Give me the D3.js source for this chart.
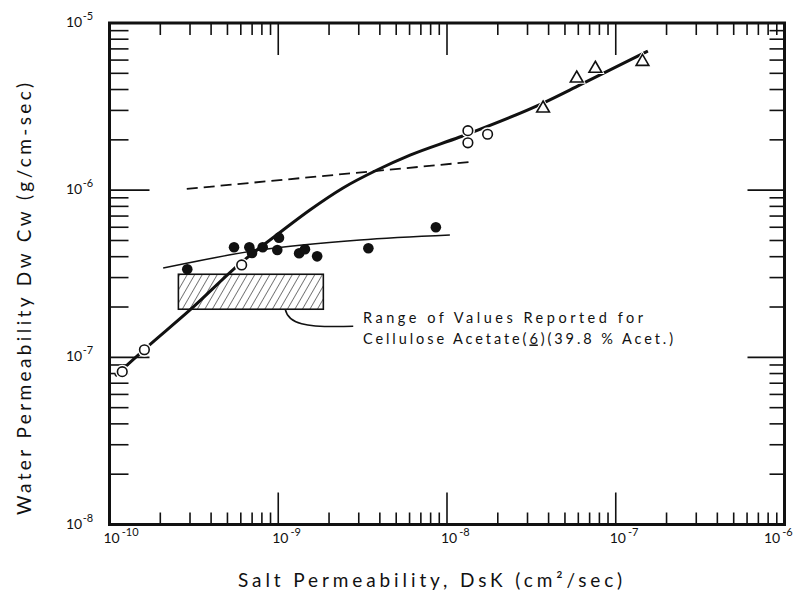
<!DOCTYPE html>
<html>
<head>
<meta charset="utf-8">
<script src="https://cdn.jsdelivr.net/npm/d3@7"></script>
<style>
  html, body { margin: 0; padding: 0; background: #fff; }
  svg { display: block; }
  text { font-family: Lato, "DejaVu Sans", sans-serif; fill: #111; }
</style>
</head>
<body>
<svg id="chart" width="799" height="595"></svg>
<script>
// Salt permeability (cm²/sec) vs water permeability (g/cm-sec)
const xTickExponents = [-10, -9, -8, -7, -6];
const yTickExponents = [-8, -7, -6, -5];

// open circles
const openX = [1.19e-10, 1.61e-10, 6.07e-10, 1.33e-8, 1.33e-8, 1.74e-8];
const openY = [8.21e-8, 1.11e-7, 3.57e-7, 2.27e-6, 1.92e-6, 2.16e-6];

// triangles
const triX = [3.71e-8, 5.87e-8, 7.57e-8, 1.44e-7];
const triY = [3.13e-6, 4.73e-6, 5.41e-6, 5.95e-6];

// filled circles
const filledX = [2.89e-10, 5.47e-10, 6.74e-10, 6.99e-10, 8.09e-10, 1.01e-9, 9.87e-10, 1.33e-9, 1.44e-9, 1.70e-9, 3.42e-9, 8.59e-9];
const filledY = [3.36e-7, 4.56e-7, 4.56e-7, 4.21e-7, 4.56e-7, 5.20e-7, 4.39e-7, 4.19e-7, 4.43e-7, 4.02e-7, 4.49e-7, 6.00e-7];

// heavy curve through open circles and triangles
const curveX = [1.08e-10, 1.62e-10, 3.0e-10, 6.10e-10, 1.05e-9, 1.54e-9, 2.42e-9, 3.85e-9, 6.04e-9, 1.19e-8, 3.71e-8, 6.14e-8, 1.55e-7];
const curveY = [7.74e-8, 1.12e-7, 1.92e-7, 3.72e-7, 5.70e-7, 7.61e-7, 1.031e-6, 1.32e-6, 1.62e-6, 2.08e-6, 3.32e-6, 4.26e-6, 6.80e-6];

// light curve through filled circles
const fitX = [2.08e-10, 7.80e-10, 3.05e-9, 1.04e-8];
const fitY = [3.42e-7, 4.39e-7, 5.04e-7, 5.40e-7];

// dashed line
const dashX = [2.87e-10, 1.43e-8];
const dashY = [1.017e-6, 1.48e-6];

// reported range for cellulose acetate
const rangeX = [2.56e-10, 1.85e-9];
const rangeY = [1.94e-7, 3.14e-7];

const noteLines = ["Range of Values Reported for", "Cellulose Acetate(6)(39.8 % Acet.)"];
const xTitle = "Salt Permeability, DsK   (cm²/sec)";
const yTitle = "Water Permeability  Dw Cw   (g/cm-sec)";

const svg = d3.select("#chart");
const L = 109.5, R = 784.5, T = 23, B = 524.5;

const x = d3.scaleLog().domain([1e-10, 1e-6]).range([L, R]);
const y = d3.scaleLog().domain([1e-8, 1e-5]).range([B, T]);

const isMajor = v => Math.abs(Math.log10(v) - Math.round(Math.log10(v))) < 1e-6;
const xt = x.ticks();
const yt = y.ticks();

const tickG = svg.append("g").attr("stroke", "#111").attr("stroke-width", 1.6);
// bottom and top ticks (inward)
xt.forEach(v => {
  const px = x(v), m = isMajor(v);
  if (v > 1e-10 && v < 1e-6) {
    tickG.append("line").attr("x1", px).attr("x2", px).attr("y1", B).attr("y2", B - (m ? 32 : 12));
    tickG.append("line").attr("x1", px).attr("x2", px).attr("y1", T).attr("y2", T + (m ? 32 : 12));
  }
});
// left and right ticks (inward)
yt.forEach(v => {
  const py = y(v), m = isMajor(v);
  if (v > 1e-8 && v < 1e-5) {
    tickG.append("line").attr("x1", L).attr("x2", L + (m ? 40 : 19)).attr("y1", py).attr("y2", py);
    tickG.append("line").attr("x1", R).attr("x2", R - (m ? 37 : 15)).attr("y1", py).attr("y2", py);
  }
});

// frame
svg.append("rect").attr("x", L).attr("y", T).attr("width", R - L).attr("height", B - T)
  .attr("fill", "none").attr("stroke", "#111").attr("stroke-width", 3);

// tick labels
xTickExponents.forEach(e => {
  let cx = x(Math.pow(10, e)) + 4;
  if (cx > 774) cx = 774;
  const t = svg.append("text").attr("x", cx - 10).attr("y", 543).attr("font-size", 14);
  t.append("tspan").text("10");
  t.append("tspan").attr("dy", -7).attr("dx", 2).attr("font-size", 11).text("-" + Math.abs(e));
});
yTickExponents.forEach(e => {
  const py = y(Math.pow(10, e));
  const t = svg.append("text").attr("x", 66).attr("y", py + 4).attr("font-size", 14);
  t.append("tspan").text("10");
  t.append("tspan").attr("dy", -7).attr("dx", 0.5).attr("font-size", 11).text("-" + Math.abs(e));
});

// hatched range box
const defs = svg.append("defs");
const pat = defs.append("pattern").attr("id", "hatch").attr("patternUnits", "userSpaceOnUse")
  .attr("width", 6.5).attr("height", 10).attr("patternTransform", "rotate(30)");
pat.append("line").attr("x1", 0).attr("x2", 0).attr("y1", 0).attr("y2", 10)
  .attr("stroke", "#111").attr("stroke-width", 1.1);
svg.append("rect")
  .attr("x", x(rangeX[0])).attr("y", y(rangeY[1]))
  .attr("width", x(rangeX[1]) - x(rangeX[0])).attr("height", y(rangeY[0]) - y(rangeY[1]))
  .attr("fill", "url(#hatch)").attr("stroke", "#111").attr("stroke-width", 1.6);

// lines
const zip = (a, b) => a.map((v, i) => [v, b[i]]);
const line = d3.line().x(d => x(d[0])).y(d => y(d[1]));

svg.append("path").datum(zip(dashX, dashY)).attr("d", line)
  .attr("fill", "none").attr("stroke", "#111").attr("stroke-width", 1.8).attr("stroke-dasharray", "11,6");

svg.append("path").datum(zip(fitX, fitY)).attr("d", line.curve(d3.curveMonotoneX))
  .attr("fill", "none").attr("stroke", "#111").attr("stroke-width", 1.5);

svg.append("path").datum(zip(curveX, curveY)).attr("d", line.curve(d3.curveMonotoneX))
  .attr("fill", "none").attr("stroke", "#111").attr("stroke-width", 3);

// markers
const openPts = zip(openX, openY);
const triPts = zip(triX, triY);
svg.append("g").selectAll("circle").data(openPts).join("circle")
  .attr("cx", d => x(d[0])).attr("cy", d => y(d[1])).attr("r", 7).attr("fill", "#fff");
svg.append("g").selectAll("circle").data(openPts).join("circle")
  .attr("cx", d => x(d[0])).attr("cy", d => y(d[1])).attr("r", 4.8)
  .attr("fill", "#fff").attr("stroke", "#111").attr("stroke-width", 1.6);

const tri = d3.symbol().type(d3.symbolTriangle).size(70);
const triHalo = d3.symbol().type(d3.symbolTriangle).size(150);
svg.append("g").selectAll("path").data(triPts).join("path")
  .attr("transform", d => `translate(${x(d[0])},${y(d[1]) + 1})`).attr("d", triHalo).attr("fill", "#fff");
svg.append("g").selectAll("path").data(triPts).join("path")
  .attr("transform", d => `translate(${x(d[0])},${y(d[1]) + 1})`).attr("d", tri)
  .attr("fill", "#fff").attr("stroke", "#111").attr("stroke-width", 1.6);

svg.append("g").selectAll("circle").data(zip(filledX, filledY)).join("circle")
  .attr("cx", d => x(d[0])).attr("cy", d => y(d[1])).attr("r", 5.3).attr("fill", "#111");

// note with leader
const lx0 = x(1.1e-9), ly0 = y(rangeY[0]);
svg.append("path")
  .attr("d", `M${lx0},${ly0} C${lx0 + 3},${ly0 + 14} ${lx0 + 18},${ly0 + 19} ${lx0 + 68},${ly0 + 17}`)
  .attr("fill", "none").attr("stroke", "#111").attr("stroke-width", 1.5);

svg.append("text").attr("x", 363).attr("y", 322.5).attr("font-size", 14.5)
  .attr("textLength", 280).attr("lengthAdjust", "spacing").text(noteLines[0]);
const n2 = svg.append("text").attr("x", 363).attr("y", 343.5).attr("font-size", 14.5)
  .attr("textLength", 310).attr("lengthAdjust", "spacing");
n2.append("tspan").text("Cellulose  Acetate(");
n2.append("tspan").attr("text-decoration", "underline").text("6");
n2.append("tspan").text(")(39.8 % Acet.)");

// axis titles
svg.append("text").attr("x", 238).attr("y", 587).attr("font-size", 19)
  .attr("textLength", 384).attr("lengthAdjust", "spacing").text(xTitle);
svg.append("text").attr("transform", "translate(31,515) rotate(-90)").attr("font-size", 19)
  .attr("textLength", 432).attr("lengthAdjust", "spacing").text(yTitle);
</script>
</body>
</html>
